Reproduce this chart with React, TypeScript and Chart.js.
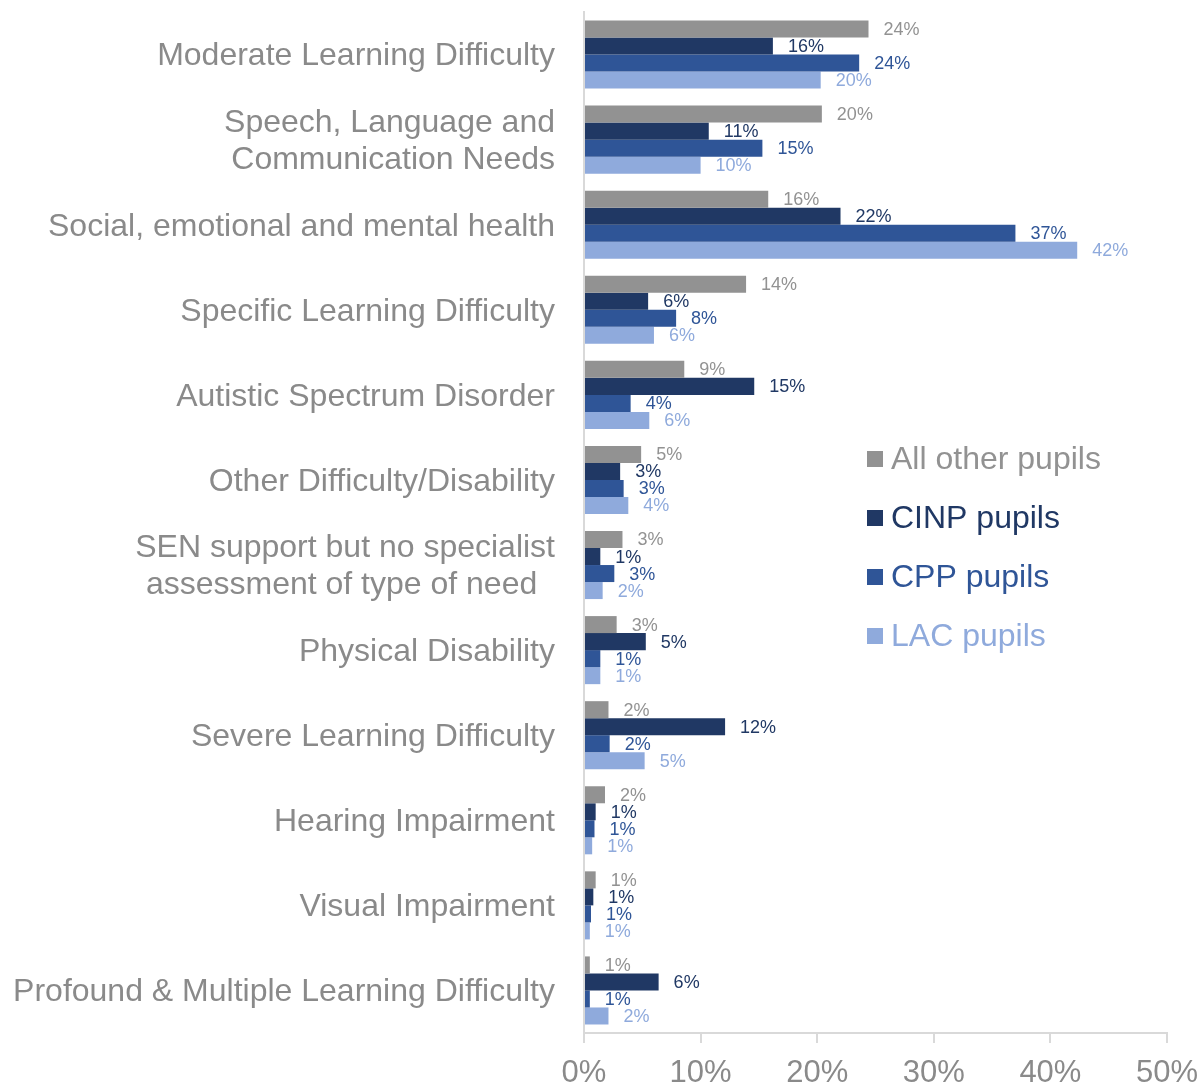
import React, { useEffect, useRef } from "react";
import { Chart, registerables } from "chart.js";

Chart.register(...registerables);

const categories: (string | string[])[] = [
  "Moderate Learning Difficulty",
  ["Speech, Language and", "Communication Needs"],
  "Social, emotional and mental health",
  "Specific Learning Difficulty",
  "Autistic Spectrum Disorder",
  "Other Difficulty/Disability",
  ["SEN support but no specialist", "assessment of type of need  "],
  "Physical Disability",
  "Severe Learning Difficulty",
  "Hearing Impairment",
  "Visual Impairment",
  "Profound & Multiple Learning Difficulty",
];

const seriesNames = ["All other pupils", "CINP pupils", "CPP pupils", "LAC pupils"];
const seriesColors = ["#929292", "#203864", "#2F5597", "#8FAADC"];

const allOtherPupils = [24.4, 20.4, 15.8, 13.9, 8.6, 4.9, 3.3, 2.8, 2.1, 1.8, 1.0, 0.5];
const cinpPupils = [16.2, 10.7, 22.0, 5.5, 14.6, 3.1, 1.4, 5.3, 12.1, 1.0, 0.8, 6.4];
const cppPupils = [23.6, 15.3, 37.0, 7.9, 4.0, 3.4, 2.6, 1.4, 2.2, 0.9, 0.6, 0.5];
const lacPupils = [20.3, 10.0, 42.3, 6.0, 5.6, 3.8, 1.6, 1.4, 5.2, 0.7, 0.5, 2.1];

const xTicks = [0, 10, 20, 30, 40, 50];

const FONT = "'Liberation Sans', Arial, sans-serif";
const TEXT_GRAY = "#8a8a8a";

const dataLabelPlugin = {
  id: "dataLabels",
  afterDatasetsDraw(chart: any) {
    const ctx = chart.ctx;
    ctx.save();
    ctx.font = `18px ${FONT}`;
    ctx.textAlign = "left";
    ctx.textBaseline = "middle";
    chart.data.datasets.forEach((ds: any, di: number) => {
      const meta = chart.getDatasetMeta(di);
      ctx.fillStyle = seriesColors[di];
      meta.data.forEach((el: any, i: number) => {
        const v = ds.data[i];
        ctx.fillText(Math.round(v) + "%", el.x + 15, el.y + 1);
      });
    });
    ctx.restore();
  },
};

const legendPlugin = {
  id: "customLegend",
  afterDraw(chart: any) {
    const ctx = chart.ctx;
    const area = chart.chartArea;
    ctx.save();
    ctx.font = `32px ${FONT}`;
    ctx.textAlign = "left";
    ctx.textBaseline = "middle";
    const x0 = area.left + 283;
    const y0 = area.top + 447;
    seriesNames.forEach((name, i) => {
      const cy = y0 + i * 59;
      ctx.fillStyle = seriesColors[i];
      ctx.fillRect(x0, cy - 8, 16, 16);
      ctx.fillText(name, x0 + 24, cy + 1);
    });
    ctx.restore();
  },
};

export default function App() {
  const ref = useRef<HTMLCanvasElement>(null);
  useEffect(() => {
    document.body.style.margin = "0";
    const seriesData = [allOtherPupils, cinpPupils, cppPupils, lacPupils];
    const chart = new Chart(ref.current!, {
      type: "bar",
      data: {
        labels: categories,
        datasets: seriesNames.map((n, i) => ({
          label: n,
          data: seriesData[i],
          backgroundColor: seriesColors[i],
          borderWidth: 0,
          categoryPercentage: 0.8,
          barPercentage: 1.0,
        })),
      },
      options: {
        indexAxis: "y",
        animation: false,
        responsive: false,
        maintainAspectRatio: false,
        layout: { padding: { top: 12, right: 0, bottom: 0, left: 0 } },
        plugins: {
          legend: { display: false },
          tooltip: { enabled: false },
        },
        scales: {
          x: {
            min: 0,
            max: 50,
            afterBuildTicks: (scale: any) => {
              scale.ticks = xTicks.map((v) => ({ value: v }));
            },
            afterFit: (scale: any) => {
              scale.height = 51;
              scale.paddingLeft = 0;
              scale.paddingRight = 32;
            },
            grid: {
              drawOnChartArea: false,
              drawTicks: true,
              tickLength: 10,
              color: "#d9d9d9",
              lineWidth: 2,
            },
            border: { display: true, color: "#d9d9d9", width: 2 },
            ticks: {
              color: TEXT_GRAY,
              font: { family: FONT, size: 31 },
              padding: 12,
              callback: (v: any) => v + "%",
            },
          },
          y: {
            afterFit: (scale: any) => {
              scale.width = 584;
              scale.paddingTop = 0;
              scale.paddingBottom = 0;
            },
            grid: { display: false, drawTicks: false },
            border: { display: true, color: "#d9d9d9", width: 2 },
            ticks: {
              color: TEXT_GRAY,
              font: { family: FONT, size: 32, lineHeight: 1.15 },
              padding: 29,
              labelOffset: 2,
              autoSkip: false,
            },
          },
        },
      },
      plugins: [dataLabelPlugin, legendPlugin],
    } as any);
    return () => chart.destroy();
  }, []);
  return (
    <div style={{ width: 1199, height: 1084, background: "#fff" }}>
      <canvas ref={ref} width={1199} height={1084} style={{ display: "block" }} />
    </div>
  );
}
